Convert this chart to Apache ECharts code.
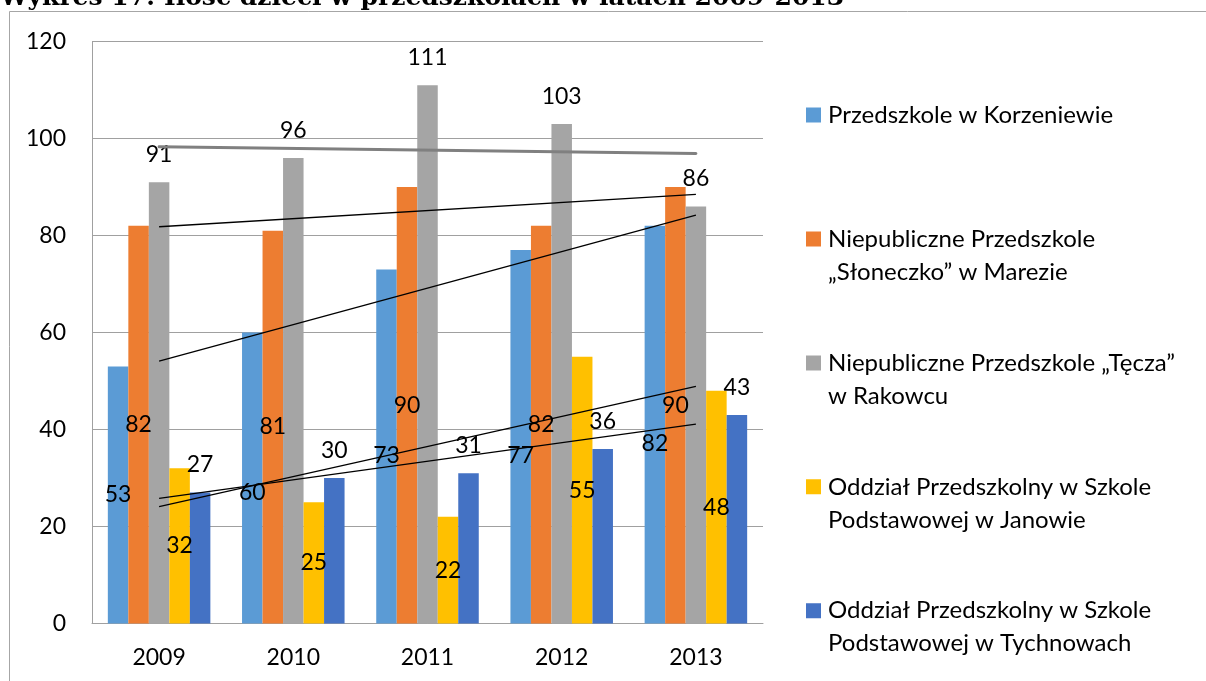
<!DOCTYPE html>
<html>
<head>
<meta charset="utf-8">
<script src="https://cdn.jsdelivr.net/npm/echarts@6/dist/echarts.min.js"></script>
<style>
html,body{margin:0;padding:0;background:#fff;}
#chart{width:1206px;height:681px;}
</style>
</head>
<body>
<div id="chart"></div>
<script>
// ---- data ----
const titleText = 'Wykres 17: Ilość dzieci w przedszkolach w latach 2009-2013';
const categories = ['2009', '2010', '2011', '2012', '2013'];
const seriesNames = [
  'Przedszkole w Korzeniewie',
  'Niepubliczne Przedszkole „Słoneczko” w Marezie',
  'Niepubliczne Przedszkole „Tęcza” w Rakowcu',
  'Oddział Przedszkolny w Szkole Podstawowej w Janowie',
  'Oddział Przedszkolny w Szkole Podstawowej w Tychnowach'
];
const legendText = [
  'Przedszkole w Korzeniewie',
  'Niepubliczne Przedszkole\n„Słoneczko” w Marezie',
  'Niepubliczne Przedszkole „Tęcza”\nw Rakowcu',
  'Oddział Przedszkolny w Szkole\nPodstawowej w Janowie',
  'Oddział Przedszkolny w Szkole\nPodstawowej w Tychnowach'
];
const korzeniewo = [53, 60, 73, 77, 82];
const marezie    = [82, 81, 90, 82, 90];
const rakowiec   = [91, 96, 111, 103, 86];
const janowo     = [32, 25, 22, 55, 48];
const tychnowy   = [27, 30, 31, 36, 43];
// trendline endpoints (at 2009 and 2013)
const trendKorzeniewo = [54.1, 84.2];
const trendMarezie    = [81.8, 88.5];
const trendRakowiec   = [98.3, 96.9];
const trendJanowo     = [24.1, 48.9];
const trendTychnowy   = [25.8, 41.1];
const yTicks = [0, 20, 40, 60, 80, 100, 120];

// ---- styling ----
const colors = ['#5B9BD5', '#ED7D31', '#A5A5A5', '#FFC000', '#4472C4'];
const FONT = 'Lato';
const valueSets = [korzeniewo, marezie, rakowiec, janowo, tychnowy];
const labelPos = ['inside', 'inside', 'top', 'inside', 'top'];
const blueLabelShift = [0, 15, 9, 19, 19];

const chart = echarts.init(document.getElementById('chart'), null, {renderer: 'canvas'});

const barSeries = valueSets.map((vals, s) => ({
  name: seriesNames[s],
  type: 'bar',
  barGap: '0%',
  barCategoryGap: '23.6%',
  itemStyle: {color: colors[s]},
  z: 2,
  label: {
    show: true,
    position: labelPos[s],
    distance: 16,
    color: '#000',
    fontFamily: FONT,
    fontSize: 23
  },
  data: vals.map((v, i) => s === 0 ? {value: v, label: {offset: [0, blueLabelShift[i]]}} : v)
}));

const trends = [trendKorzeniewo, trendMarezie, trendRakowiec, trendJanowo, trendTychnowy];
const trendSeries = trends.map((t, s) => ({
  name: 'trend' + s,
  type: 'line',
  silent: true,
  symbol: 'none',
  z: 3,
  lineStyle: s === 2 ? {color: '#808080', width: 3, cap: 'round'} : {color: '#000', width: 1.3},
  data: [[categories[0], t[0]], [categories[categories.length - 1], t[1]]]
}));

const nameToLegend = {};
seriesNames.forEach((n, i) => nameToLegend[n] = legendText[i]);

const legendTextStyle = {
  fontFamily: FONT, fontSize: 24, color: '#000', lineHeight: 33, padding: [0, 0, 0, 2]
};

const option = {
  backgroundColor: '#fff',
  animation: false,
  title: {
    text: titleText,
    left: 0,
    top: -14,
    padding: 0,
    textStyle: {fontFamily: 'DejaVu Serif', fontWeight: 'bold', fontSize: 25, lineHeight: 25, color: '#000'}
  },
  graphic: [{
    type: 'rect',
    shape: {x: 9.5, y: 11.5, width: 1400, height: 900},
    style: {fill: 'none', stroke: '#A6A6A6', lineWidth: 1},
    silent: true,
    z: -1
  }],
  grid: {left: 92, right: 443, top: 41.5, bottom: 57.5},
  legend: [
    {
      orient: 'vertical', left: 806, top: 98.5, padding: 0,
      itemWidth: 15, itemHeight: 15, icon: 'rect',
      data: [seriesNames[0]],
      formatter: n => nameToLegend[n],
      textStyle: legendTextStyle
    },
    {
      orient: 'vertical', left: 806, top: 222.5, padding: 0,
      itemWidth: 15, itemHeight: 48, itemGap: 57.9,
      icon: 'path://M0,0H15V15H0Z M0,47.99H0.01V48H0Z',
      data: seriesNames.slice(1),
      formatter: n => nameToLegend[n],
      textStyle: legendTextStyle
    }
  ],
  xAxis: {
    type: 'category',
    data: categories,
    axisLine: {lineStyle: {color: '#A0A0A0', width: 1}},
    axisTick: {show: false},
    axisLabel: {color: '#000', fontFamily: FONT, fontSize: 23, margin: 23}
  },
  yAxis: {
    type: 'value',
    min: yTicks[0],
    max: yTicks[yTicks.length - 1],
    interval: yTicks[1] - yTicks[0],
    axisLine: {show: true, lineStyle: {color: '#A0A0A0', width: 1}},
    axisTick: {show: false},
    splitLine: {lineStyle: {color: '#A0A0A0', width: 1}},
    axisLabel: {color: '#000', fontFamily: FONT, fontSize: 23, margin: 26}
  },
  series: barSeries.concat(trendSeries)
};
chart.setOption(option);
</script>
</body>
</html>
